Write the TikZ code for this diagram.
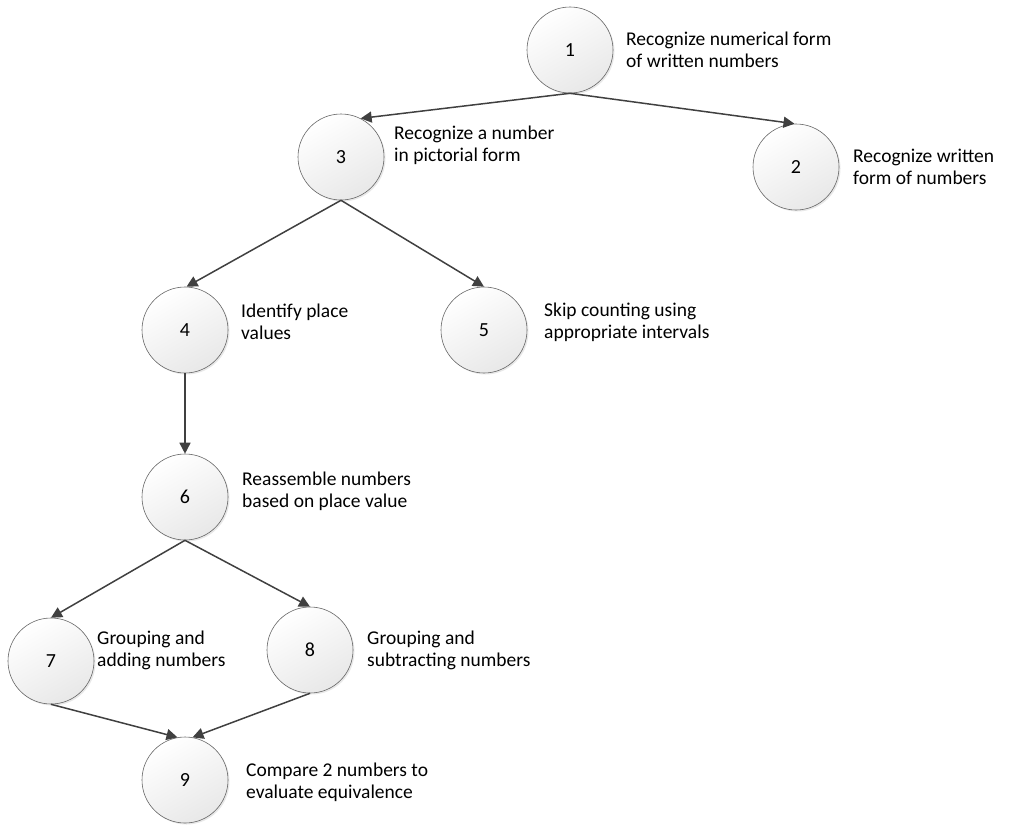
\documentclass[tikz,border=0pt]{standalone}
\usepackage{fontspec}
\setmainfont{Carlito}
\usetikzlibrary{arrows.meta, positioning, shadows}

\tikzset{
  stepcirc/.style={circle, draw=black!60, line width=0.6pt, minimum size=86pt, inner sep=0pt,
    top color=white, bottom color=black!9, shading angle=30,
    drop shadow={opacity=0.18, shadow xshift=1.5pt, shadow yshift=-1.5pt},
    font=\fontsize{20}{22}\selectfont},
  desc/.style={anchor=west, align=left, inner sep=0pt, font=\fontsize{19.5}{22}\selectfont},
  link/.style={-{Triangle[length=11pt,width=11pt]}, line width=1.5pt, draw=black!75}
}

\begin{document}
\begin{tikzpicture}[x=1pt, y=-1pt]
\useasboundingbox (0,0) rectangle (1016,827);
% circles
\foreach \n/\x/\y in {1/570/50, 2/796/167, 3/341/157, 4/185/330, 5/484/330,
                      6/185/497, 7/51/661, 8/310/650, 9/185/780} {
  \node[stepcirc] (c\n) at (\x,\y) {\n};
}
% descriptions
\node[desc] (t1) at (626,50)  {Recognize numerical form\\of written numbers};
\node[desc] (t2) at (853,167) {Recognize written\\form of numbers};
\node[desc] (t3) at (394,145) {Recognize a number\\in pictorial form};
\node[desc] (t4) at (241,322) {Identify place\\values};
\node[desc] (t5) at (544,322) {Skip counting using\\appropriate intervals};
\node[desc] (t6) at (242,491) {Reassemble numbers\\based on place value};
\node[desc] (t7) at (97,650)  {Grouping and\\adding numbers};
\node[desc] (t8) at (367,650) {Grouping and\\subtracting numbers};
\node[desc] (t9) at (246,782) {Compare 2 numbers to\\evaluate equivalence};
% connectors
\foreach \a/\b in {1/3.63, 1/2.92, 3/4.88, 3/5.90, 4/6.90, 6/7.90, 6/8.90, 7/9.100, 8/9.80} {
  \draw[link] (c\a.south) -- (c\b);
}
\end{tikzpicture}
\end{document}
